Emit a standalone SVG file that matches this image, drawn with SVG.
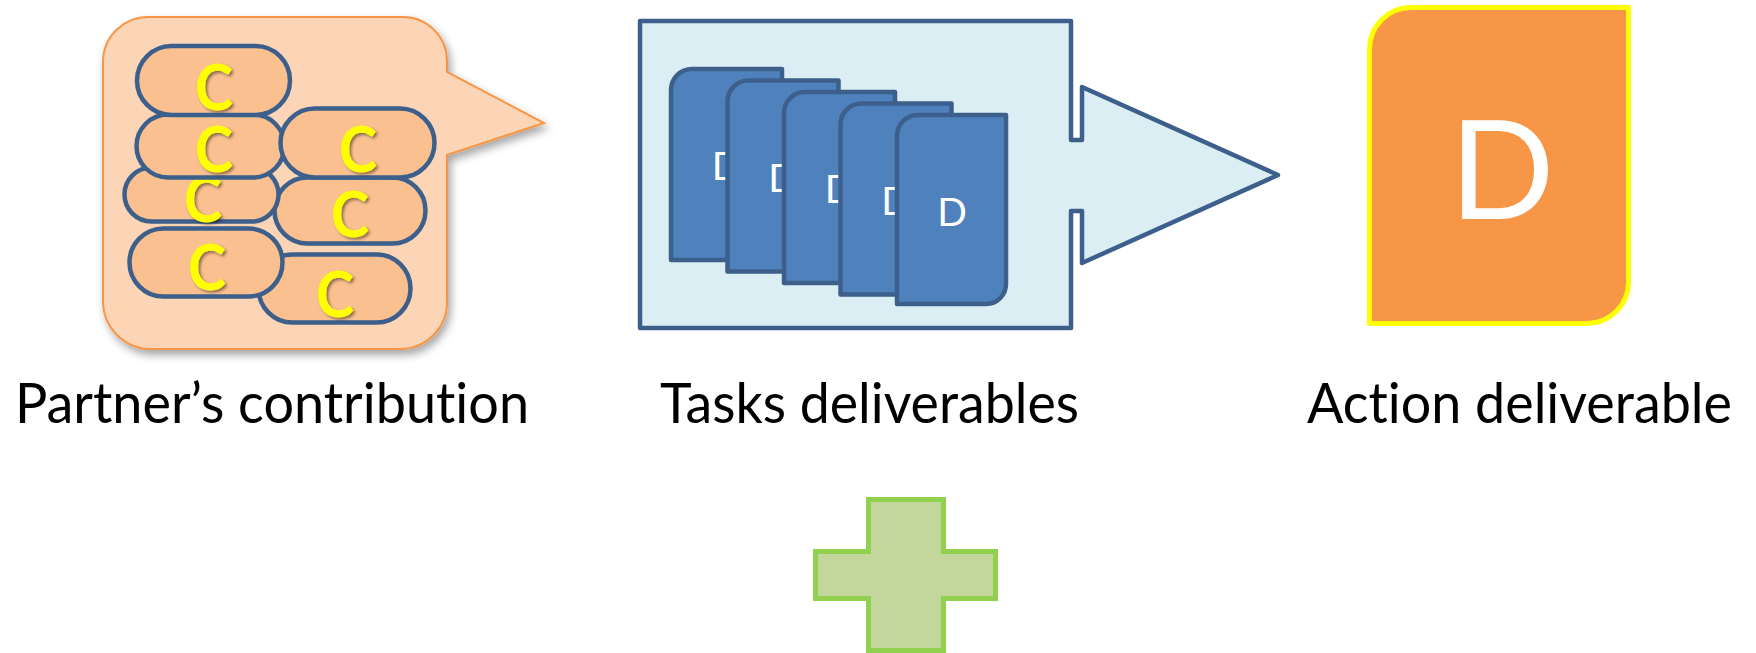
<svg xmlns="http://www.w3.org/2000/svg" width="1756" height="653" viewBox="0 0 1756 653">
  <defs>
    <filter id="softShadow" x="-10%" y="-10%" width="125%" height="130%">
      <feDropShadow dx="3" dy="5" stdDeviation="4" flood-color="#000" flood-opacity="0.35"/>
    </filter>
    <filter id="letterShadow" x="-30%" y="-30%" width="160%" height="160%">
      <feDropShadow dx="2" dy="2" stdDeviation="1.5" flood-color="#000" flood-opacity="0.45"/>
    </filter>
  </defs>
  <style>
    text { font-variant-ligatures: none; }
    .bubble { fill: #FBD5B5; stroke: #F79646; stroke-width: 2; }
    .capsule { fill: #FAC090; stroke: #3C5F8B; stroke-width: 4.5; }
    .c-letter { font-family: Lato, "Open Sans", sans-serif; font-weight: bold; font-size: 64px; fill: #FFFF00; text-anchor: middle; }
    .frame { fill: #DAEEF3; stroke: #3C5F8B; stroke-width: 4.5; stroke-linejoin: round; }
    .doc { fill: #4F81BD; stroke: #3C5F8B; stroke-width: 4.5; stroke-linejoin: round; }
    .d-small { font-family: Lato, "Open Sans", sans-serif; font-size: 39px; fill: #FFFFFF; text-anchor: middle; }
    .big-doc { fill: #F79646; stroke: #FFFF00; stroke-width: 5; stroke-linejoin: round; }
    .d-big { font-family: Lato, "Open Sans", sans-serif; font-size: 138px; fill: #FFFFFF; text-anchor: middle; }
    .plus { fill: #C3D69B; stroke: #92D050; stroke-width: 5; }
    .label { font-family: Lato, "Open Sans", sans-serif; font-size: 57px; fill: #000000; }
  </style>

  <!-- Speech bubble holding the stacked contributions -->
  <g id="partner-contribution">
    <path class="bubble" filter="url(#softShadow)" d="M150,17 H403 A44,44 0 0 1 447,61 V72 L544,123 L447,155 V302 A47,47 0 0 1 400,349 H151 A48,48 0 0 1 103,301 V62 A45,45 0 0 1 150,17 Z"/>
    <g id="capsule-7">
      <rect class="capsule" x="258.5" y="254.5" width="152" height="68" rx="34"/>
      <text class="c-letter" filter="url(#letterShadow)" x="335" y="317" textLength="38" lengthAdjust="spacingAndGlyphs">C</text>
    </g>
    <g id="capsule-6">
      <rect class="capsule" x="274.5" y="177.5" width="151" height="66" rx="33"/>
      <text class="c-letter" filter="url(#letterShadow)" x="350" y="237" textLength="38" lengthAdjust="spacingAndGlyphs">C</text>
    </g>
    <g id="capsule-3">
      <rect class="capsule" x="124.5" y="167.5" width="154" height="54" rx="27"/>
      <text class="c-letter" filter="url(#letterShadow)" x="203" y="222" textLength="38" lengthAdjust="spacingAndGlyphs">C</text>
    </g>
    <g id="capsule-4">
      <rect class="capsule" x="129.5" y="228.5" width="153" height="68" rx="34"/>
      <text class="c-letter" filter="url(#letterShadow)" x="207" y="290" textLength="38" lengthAdjust="spacingAndGlyphs">C</text>
    </g>
    <g id="capsule-2">
      <rect class="capsule" x="136.5" y="114.5" width="148" height="63" rx="31.5"/>
      <text class="c-letter" filter="url(#letterShadow)" x="214" y="172" textLength="38" lengthAdjust="spacingAndGlyphs">C</text>
    </g>
    <g id="capsule-1">
      <rect class="capsule" x="137" y="46" width="153" height="69" rx="34.5"/>
      <text class="c-letter" filter="url(#letterShadow)" x="214" y="110" textLength="38" lengthAdjust="spacingAndGlyphs">C</text>
    </g>
    <g id="capsule-5">
      <rect class="capsule" x="280.5" y="108.5" width="154" height="69" rx="34.5"/>
      <text class="c-letter" filter="url(#letterShadow)" x="358" y="172" textLength="38" lengthAdjust="spacingAndGlyphs">C</text>
    </g>
  </g>

  <!-- Frame with arrow holding the task documents -->
  <g id="tasks-deliverables">
    <path class="frame" d="M640,21 H1071 V140 H1082 V87 L1278,175 L1082,263 V211 H1071 V328 H640 Z"/>
    <g id="task-doc-1">
      <path class="doc" d="M692,69 H782 V260 H671 V90 A21,21 0 0 1 692,69 Z"/>
      <text class="d-small" x="726.5" y="180">D</text>
    </g>
    <g id="task-doc-2">
      <path class="doc" d="M748.5,80.5 H838.5 V271.5 H727.5 V101.5 A21,21 0 0 1 748.5,80.5 Z"/>
      <text class="d-small" x="783" y="191.5">D</text>
    </g>
    <g id="task-doc-3">
      <path class="doc" d="M805,92 H895 V283 H784 V113 A21,21 0 0 1 805,92 Z"/>
      <text class="d-small" x="839.5" y="203">D</text>
    </g>
    <g id="task-doc-4">
      <path class="doc" d="M861.5,103.5 H951.5 V294.5 H840.5 V124.5 A21,21 0 0 1 861.5,103.5 Z"/>
      <text class="d-small" x="896" y="214.5">D</text>
    </g>
    <g id="task-doc-5">
      <path class="doc" d="M918,115 H1006 V284 A20,20 0 0 1 986,304 H897 V136 A21,21 0 0 1 918,115 Z"/>
      <text class="d-small" x="952" y="226">D</text>
    </g>
  </g>

  <!-- Single combined deliverable -->
  <g id="action-deliverable">
    <path class="big-doc" d="M1411,7.5 H1628.5 V282 A41.5,41.5 0 0 1 1587,323.5 H1369.5 V49 A41.5,41.5 0 0 1 1411,7.5 Z"/>
    <text class="d-big" x="1502" y="219">D</text>
  </g>

  <!-- Plus sign -->
  <g id="plus-sign">
    <path class="plus" d="M868.5,499.5 H943.5 V551.5 H995.5 V598.5 H943.5 V650.5 H868.5 V598.5 H815.5 V551.5 H868.5 Z"/>
  </g>

  <!-- Captions -->
  <g id="labels">
    <text class="label" x="15" y="423" textLength="514" lengthAdjust="spacingAndGlyphs">Partner’s contribution</text>
    <text class="label" x="660" y="423" textLength="419" lengthAdjust="spacingAndGlyphs">Tasks deliverables</text>
    <text class="label" x="1307" y="423" textLength="425" lengthAdjust="spacingAndGlyphs">Action deliverable</text>
  </g>
</svg>
